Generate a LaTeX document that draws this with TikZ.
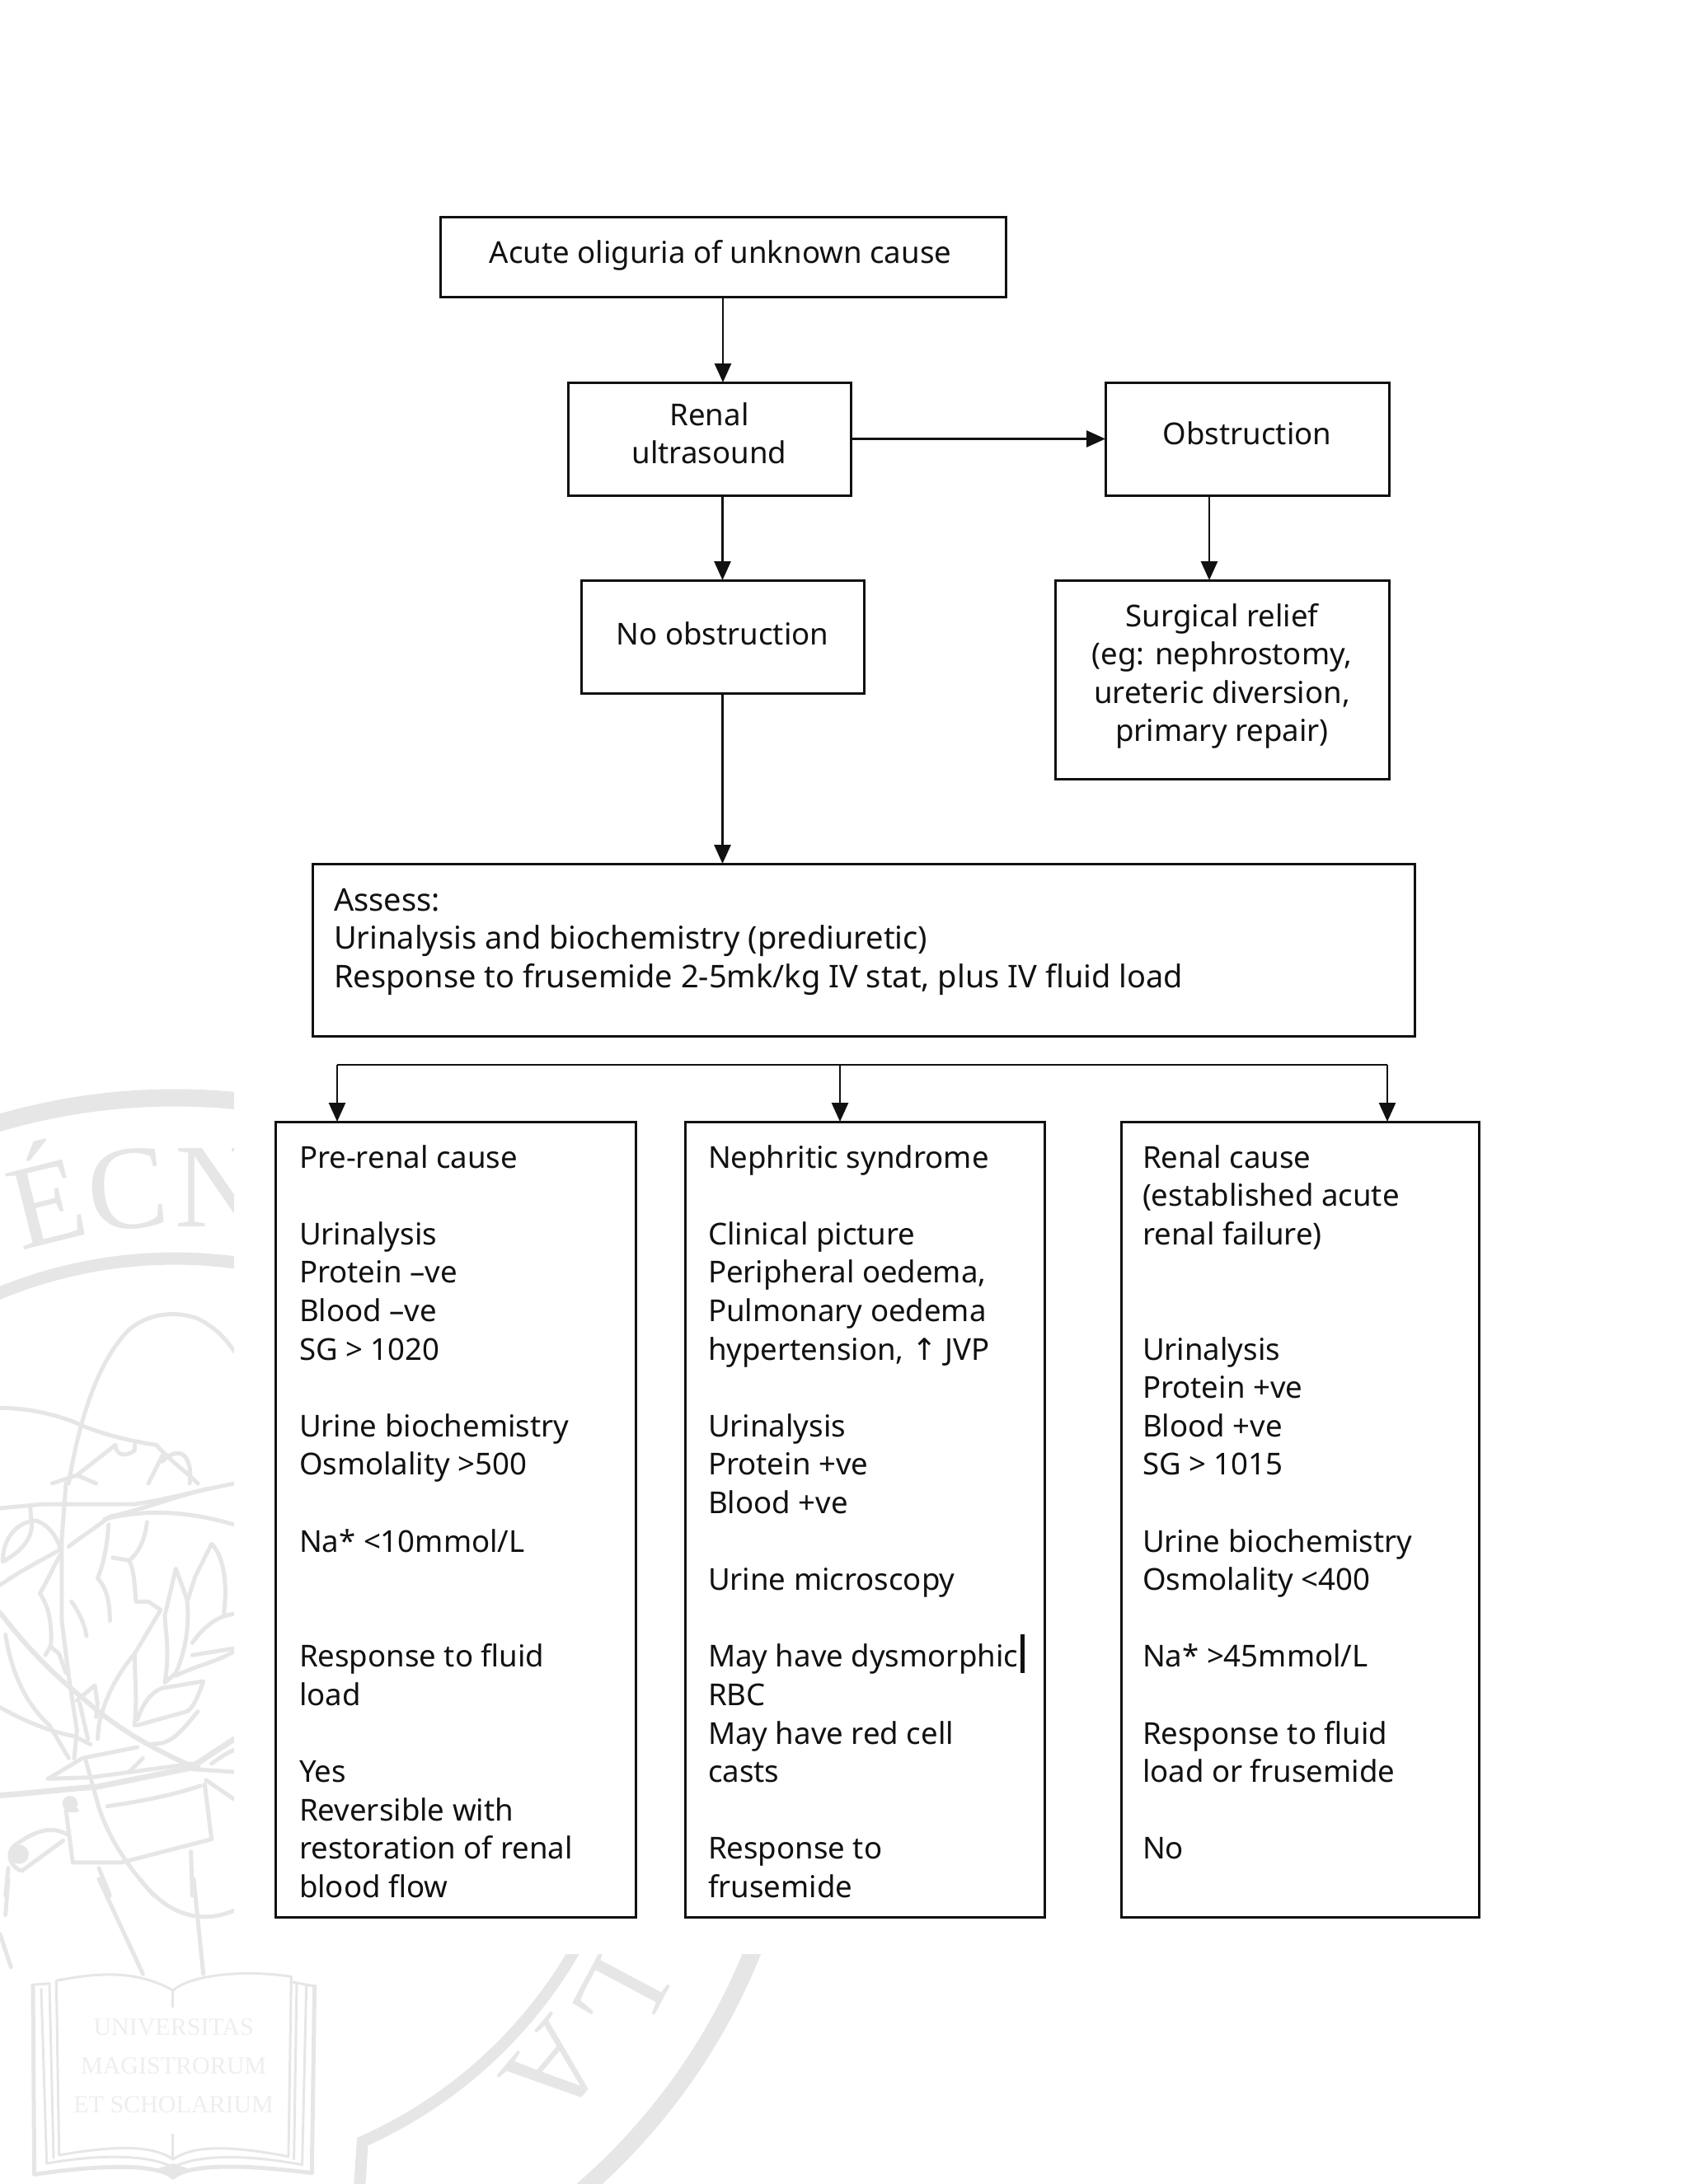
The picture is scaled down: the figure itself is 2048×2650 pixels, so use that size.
\documentclass[tikz,border=0pt]{standalone}
\usepackage{fontspec}
\setmainfont{Noto Sans}
\newfontfamily\arrowfont{DejaVu Sans}
\newfontfamily\sealfont{Liberation Serif}
\usetikzlibrary{arrows.meta}
\definecolor{wmgray}{HTML}{E6E6E6}
\definecolor{wmlight}{HTML}{EEEEEE}
\definecolor{inkc}{HTML}{111111}
\newcommand\bodytext[3]{\begin{minipage}[t][#2pt][t]{#1pt}#3\end{minipage}}
\newcommand\blk{\strut\\}
\tikzset{
  flowbox/.style={draw=inkc,line width=3pt,inner sep=0pt,outer sep=0pt,anchor=north west,
    text=inkc,font=\fontsize{36.6}{46.6}\selectfont},
  conn/.style={draw=inkc,line width=2.8pt,-{Triangle[length=23pt,width=20pt]}},
  connplain/.style={draw=inkc,line width=2.8pt},
  wm/.style={draw=wmgray,line width=5pt,line join=round,line cap=round},
  ring/.style={draw=wmgray,line cap=butt},
  sealtxt/.style={text=wmgray,font=\sealfont\fontsize{145}{145}\selectfont,inner sep=0pt},
  booktxt/.style={text=wmlight,font=\sealfont\fontsize{30}{30}\selectfont,inner sep=0pt},
}
\begin{document}
\begin{tikzpicture}[x=1pt,y=-1pt]
\useasboundingbox (0,0) rectangle (2048,2650);
\begin{scope}
\clip (0,0) rectangle (2048,2650);
% seal rings
\draw[ring,line width=21pt] (212,2087) circle[radius=755];
\draw[ring,line width=15pt] plot[domain=180:300,samples=80] ({212+560*cos(\x)},{2087+560*sin(\x)});
\draw[ring,line width=14pt] plot[domain=25:66,samples=60] ({212+560*cos(\x)},{2087+560*sin(\x)}) -- (436,2655);
% seal letters
\node[sealtxt,rotate=14] at (53,1446) {É};
\node[sealtxt,rotate=6] at (155,1443) {C};
\node[sealtxt,rotate=0] at (265,1441) {N};
\node[sealtxt,rotate=-118] at (753,2423) {L};
\node[sealtxt,rotate=-130] at (673,2510) {A};
% tree, upper part
\begin{scope}[shift={(0,1300)},x=0.3333pt,y=-0.3333pt]
\draw[wm] (250,1500) .. controls (300,1200) and (380,1030) .. (470,940) .. controls (540,880) and (640,870) .. (720,900) .. controls (780,930) and (820,970) .. (853,1020);
\draw[wm] (0,1225) .. controls (120,1225) and (240,1260) .. (300,1290) .. controls (400,1330) and (500,1350) .. (570,1360) .. controls (600,1400) and (680,1460) .. (720,1500);
\draw[wm] (190,1500) -- (280,1470) -- (420,1360) .. controls (420,1390) and (450,1410) .. (490,1380) -- (490,1360);
\draw[wm] (540,1500) .. controls (570,1440) and (580,1420) .. (590,1400);
\draw[wm] (590,1420) .. controls (620,1390) and (640,1390) .. (650,1390) .. controls (680,1390) and (700,1440) .. (690,1500);
\draw[wm] (280,1470) -- (350,1500);
\end{scope}
% tree, lower part
\begin{scope}[shift={(0,1800)},x=0.3333pt,y=-0.3333pt]
\draw[wm] (0,90) -- (160,75) -- (490,75) .. controls (600,60) and (700,30) .. (853,0);
\draw[wm] (380,130) .. controls (500,100) and (650,90) .. (853,150);
\draw[wm] (250,230) .. controls (300,190) and (350,160) .. (400,120) .. controls (500,100) and (600,60) .. (750,20);
\draw[wm] (240,0) -- (225,200) -- (225,500) -- (250,700) -- (280,900) -- (270,1000);
\draw[wm] (110,90) -- (115,140) .. controls (120,190) and (90,240) .. (10,285) .. controls (10,200) and (60,140) .. (130,135) .. controls (180,150) and (210,200) .. (220,240);
\draw[wm] (0,370) .. controls (70,320) and (150,280) .. (220,240);
\draw[wm] (220,260) .. controls (190,310) and (170,360) .. (145,400) .. controls (180,450) and (190,520) .. (185,590) -- (165,625);
\draw[wm] (185,595) -- (215,620) -- (240,690);
\draw[wm] (260,430) .. controls (290,470) and (310,520) .. (315,555);
\draw[wm] (395,150) .. controls (390,230) and (375,300) .. (355,345) .. controls (390,380) and (400,440) .. (400,500);
\draw[wm] (410,270) -- (470,280) .. controls (510,250) and (530,190) .. (535,140);
\draw[wm] (470,280) .. controls (490,320) and (490,380) .. (495,430) -- (540,430) -- (585,460) -- (490,620);
\draw[wm] (490,620) .. controls (430,690) and (380,780) .. (360,880) -- (355,930);
\draw[wm] (490,620) .. controls (490,700) and (500,780) .. (490,880);
\draw[wm] (600,725) .. controls (620,600) and (600,530) .. (600,480) -- (640,310) -- (680,420) .. controls (690,500) and (680,600) .. (640,690) -- (600,725);
\draw[wm] (685,420) -- (710,340) -- (770,220) .. controls (810,260) and (830,350) .. (815,470);
\draw[wm] (700,580) .. controls (750,510) and (800,480) .. (853,475);
\draw[wm] (700,625) -- (853,600);
\draw[wm] (640,700) .. controls (720,660) and (790,650) .. (853,610);
\draw[wm] (500,860) .. controls (520,800) and (550,760) .. (590,745) -- (740,720) .. controls (720,780) and (700,820) .. (680,830) -- (500,880);
\draw[wm] (720,830) .. controls (670,890) and (640,930) .. (590,945) -- (540,950);
\draw[wm,line width=6pt] (0,470) .. controls (100,600) and (200,700) .. (300,780) .. controls (400,870) and (520,950) .. (700,1030);
\draw[wm] (20,550) .. controls (40,680) and (90,800) .. (180,880) -- (250,1000);
\draw[wm] (0,815) .. controls (80,860) and (170,900) .. (270,920) -- (330,950);
\draw[wm] (280,790) -- (345,735) -- (355,800) -- (350,850);
\draw[wm] (290,800) -- (320,930);
\draw[wm] (175,1075) -- (300,1000) -- (500,960);
\draw[wm] (175,1075) -- (330,1070) -- (700,1020);
\draw[wm,line width=7pt] (0,1135) .. controls (100,1130) and (250,1110) .. (350,1105) -- (720,1030);
\draw[wm] (240,1190) -- (265,1380) -- (440,1380) -- (770,1295) -- (745,1095);
\draw[wm] (240,1190) -- (280,1190);
\draw[wm] (390,1175) .. controls (500,1160) and (650,1130) .. (730,1100);
\draw[wm] (310,1000) -- (360,1180) .. controls (400,1300) and (470,1400) .. (560,1500);
\draw[wm] (360,1400) -- (400,1500);
\draw[wm] (695,1340) -- (700,1500);
\draw[wm] (700,1040) -- (853,1050);
\draw[wm] (750,1080) -- (853,1150);
\draw[wm,line width=7pt] (700,1030) -- (853,930);
\draw[wm] (770,1020) .. controls (810,990) and (830,980) .. (853,970);
\draw[wm] (250,1280) .. controls (180,1240) and (120,1270) .. (50,1320) .. controls (20,1350) and (40,1400) .. (80,1410) -- (230,1300);
\fill[wmgray] (70,1350) circle[radius=35];
\fill[wmgray] (255,1165) circle[radius=28];
\draw[wm] (30,1400) -- (20,1500);
\draw[wm] (470,1050) -- (520,1000);
\end{scope}
% stems and book
\begin{scope}[shift={(0,2280)},x=0.3333pt,y=-0.3333pt]
\draw[wm] (360,0) -- (520,345);
\draw[wm] (705,0) -- (740,345);
\draw[wm] (510,0) .. controls (600,120) and (720,170) .. (850,115);
\draw[wm] (30,0) -- (20,130);
\draw[wm] (0,200) -- (40,320);
\draw[wm,line width=3pt] (205,370) .. controls (400,330) and (520,345) .. (630,405) .. controls (700,345) and (900,330) .. (1060,355);
\draw[wm,line width=3pt] (205,370) -- (215,1005) .. controls (470,960) and (570,980) .. (630,1020) .. controls (690,980) and (790,960) .. (1050,1010) -- (1060,355);
\draw[wm,line width=3pt] (180,380) -- (195,1015);
\draw[wm,line width=3pt] (1080,380) -- (1070,1020);
\draw[wm,line width=3pt] (150,400) -- (170,1035) .. controls (400,995) and (560,1010) .. (630,1050) .. controls (700,1010) and (860,995) .. (1100,1040) -- (1115,390);
\draw[wm,line width=3pt] (115,385) -- (180,380);
\draw[wm,line width=3pt] (1065,375) -- (1145,390);
\draw[wm] (120,390) -- (125,1075) .. controls (400,1035) and (570,1040) .. (630,1085) .. controls (690,1040) and (860,1035) .. (1135,1070) -- (1145,390);
\fill[wmgray] (570,1055) -- (630,1035) -- (690,1055) -- (630,1095) -- cycle;
\draw[wm,line width=3pt] (630,405) -- (630,465);
\draw[wm,line width=3pt] (630,930) -- (630,1020);
\node[booktxt] at (632,540) {UNIVERSITAS};
\node[booktxt] at (632,680) {MAGISTRORUM};
\node[booktxt] at (632,820) {ET SCHOLARIUM};
\end{scope}
\fill[white] (284,1200) rectangle (2048,2371);
\end{scope}
% flowchart
\node[flowbox,inner ysep=23.5pt] (acute) at (534,263) {\bodytext{686}{50}{\centering\strut\hspace*{-6pt}Acute oliguria of unknown cause}};
\node[flowbox,inner ysep=19.5pt] (renal) at (689,464) {\bodytext{343}{98}{\centering\strut Renal\\ ultrasound}};
\node[flowbox,inner ysep=42.5pt] (obs) at (1341,464) {\bodytext{344}{52}{\centering\strut Obstruction}};
\node[flowbox,inner ysep=45.5pt] (noob) at (705,704) {\bodytext{343}{46}{\centering\strut No obstruction}};
\node[flowbox,inner ysep=23.5pt] (surg) at (1280,704) {\bodytext{405}{194}{\centering\strut Surgical relief\\ (eg: nephrostomy,\\ ureteric diversion,\\ primary repair)}};
\node[flowbox,inner ysep=24.5pt,inner xsep=26pt,font=\fontsize{38}{46.6}\selectfont] (assess) at (379,1048) {\bodytext{1285}{160}{\raggedright\strut Assess:\\ Urinalysis and biochemistry (prediuretic)\\ \mbox{Response to frusemide 2-5mk/kg IV stat, plus IV fluid load}}};
\node[flowbox,inner ysep=23.5pt,inner xsep=29pt] (col1) at (334,1361) {\bodytext{379}{918}{\raggedright\strut Pre-renal cause\\ \blk Urinalysis\\ Protein –ve\\ Blood –ve\\ SG > 1020\\ \blk \mbox{Urine biochemistry}\\ Osmolality >500\\ \blk Na* <10mmol/L\\ \blk \blk Response to fluid\\ load\\ \blk Yes\\ Reversible with\\ \mbox{restoration of renal}\\ blood flow}};
\node[flowbox,inner ysep=23.5pt,inner xsep=28pt] (col2) at (831,1361) {\bodytext{380}{918}{\raggedright\strut Nephritic syndrome\\ \blk Clinical picture\\ Peripheral oedema,\\ Pulmonary oedema\\ \mbox{hypertension, {\arrowfont↑} JVP}\\ \blk Urinalysis\\ Protein +ve\\ Blood +ve\\ \blk Urine microscopy\\ \blk \mbox{May have dysmorphic}\\ RBC\\ May have red cell\\ casts\\ \blk Response to\\ frusemide}};
\node[flowbox,inner ysep=23.5pt,inner xsep=26pt] (col3) at (1360,1361) {\bodytext{382}{918}{\raggedright\strut Renal cause\\ \mbox{(established acute}\\ renal failure)\\ \blk \blk Urinalysis\\ Protein +ve\\ Blood +ve\\ SG > 1015\\ \blk \mbox{Urine biochemistry}\\ Osmolality <400\\ \blk Na* >45mmol/L\\ \blk Response to fluid\\ \mbox{load or frusemide}\\ \blk No}};
\fill[inkc] (1238,1983) rectangle (1243,2030);
% connectors
\draw[conn] (acute.south) -- (renal.north -| acute.south);
\draw[conn] (renal.east) -- (obs.west);
\draw[conn] (renal.south -| noob.north) -- (noob.north);
\draw[conn] ([xshift=-46pt]obs.south) -- ([xshift=-46pt]obs.south |- surg.north);
\draw[conn] (noob.south) -- (assess.north -| noob.south);
\coordinate (bl) at (409,1292);
\coordinate (bm) at (1019,1292);
\coordinate (br) at (1683,1292);
\draw[connplain] (bl) -- (br);
\draw[conn] (bl) -- (col1.north -| bl);
\draw[conn] (bm) -- (col2.north -| bm);
\draw[conn] (br) -- (col3.north -| br);
\end{tikzpicture}
\end{document}
